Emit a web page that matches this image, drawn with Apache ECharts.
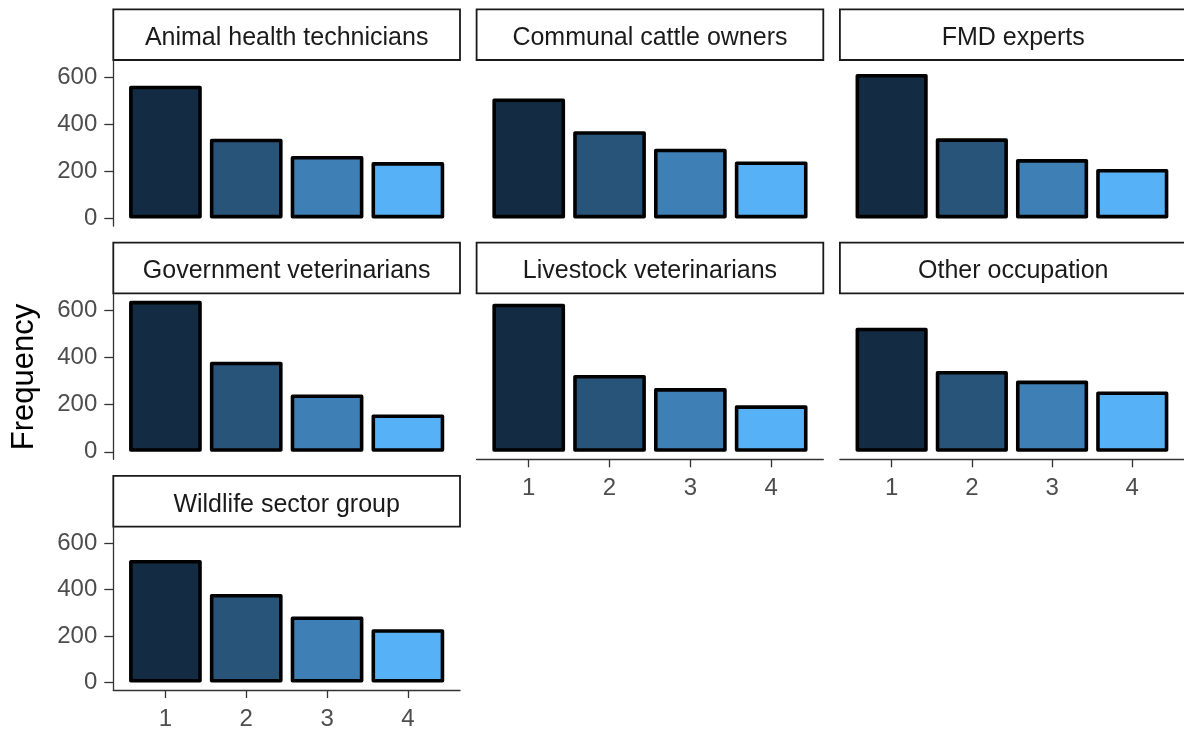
<!DOCTYPE html>
<html>
<head>
<meta charset="utf-8">
<script src="https://cdn.jsdelivr.net/npm/echarts@6/dist/echarts.min.js"></script>
<style>
  html, body { margin: 0; padding: 0; background: #ffffff; }
  #chart { width: 1184px; height: 731px; }
</style>
</head>
<body>
<div id="chart"></div>
<script>
// Facet labels, in panel order (left to right, top to bottom)
const occupations = [
  'Animal health technicians',
  'Communal cattle owners',
  'FMD experts',
  'Government veterinarians',
  'Livestock veterinarians',
  'Other occupation',
  'Wildlife sector group'
];

// Response levels on the x axis
const levels = [1, 2, 3, 4];

// Frequency of each level, one array per occupation group
const animalHealthTechnicians = [563, 338, 265, 239];
const communalCattleOwners    = [509, 370, 296, 242];
const fmdExperts              = [613, 340, 252, 210];
const governmentVeterinarians = [640, 382, 243, 158];
const livestockVeterinarians  = [628, 326, 270, 197];
const otherOccupation         = [526, 343, 302, 256];
const wildlifeSectorGroup     = [528, 382, 285, 230];

// Axis tick values
const yTickValues = [0, 200, 400, 600];
const xTickValues = [1, 2, 3, 4];

const panelValues = [
  animalHealthTechnicians, communalCattleOwners, fmdExperts,
  governmentVeterinarians, livestockVeterinarians, otherOccupation,
  wildlifeSectorGroup
];

// Fill gradient from dark navy (level 1) to light blue (level 4)
const levelFills = ['#132B43', '#28547A', '#3E7FB5', '#56B1F7'];

// Facet layout (pixels)
const colLeft = [113.3, 476.6, 839.9];
const rowTop = [9.3, 242.6, 475.9];
const panelW = 346.7;
const stripH = 50.7;
const plotH = 166;
const nCols = 3;

const FONT = 'Arial, "Liberation Sans", Helvetica, sans-serif';

// Shared scales, padded 5% like the facet defaults
const yMaxData = Math.max(...panelValues.flat());
const yMin = -0.05 * yMaxData;
const yMax = 1.05 * yMaxData;
const barSpan = 0.9;
const xLo = levels[0] - barSpan / 2;
const xHi = levels[levels.length - 1] + barSpan / 2;
const xPad = 0.05 * (xHi - xLo);

const nPanels = occupations.length;

const grids = [], xAxes = [], yAxes = [], series = [], graphics = [];

occupations.forEach((name, i) => {
  const col = i % nCols;
  const row = Math.floor(i / nCols);
  const left = colLeft[col];
  const stripTop = rowTop[row];
  const plotTop = stripTop + stripH;

  // A panel shows its x axis when nothing sits below it
  const showX = (i + nCols) >= nPanels;
  const showY = col === 0;

  grids.push({ left: left, top: plotTop, width: panelW, height: plotH, containLabel: false });

  xAxes.push({
    gridIndex: i,
    type: 'value',
    min: xLo - xPad,
    max: xHi + xPad,
    show: showX,
    axisLine: { show: true, onZero: false, lineStyle: { color: '#333333', width: 1.3 } },
    axisTick: { show: true, length: 8, customValues: xTickValues, lineStyle: { color: '#333333', width: 1.3 } },
    axisLabel: {
      show: true, customValues: xTickValues, margin: 17,
      color: '#4D4D4D', fontSize: 24, fontFamily: FONT
    },
    splitLine: { show: false }
  });

  yAxes.push({
    gridIndex: i,
    type: 'value',
    min: yMin,
    max: yMax,
    show: showY,
    axisLine: { show: true, onZero: false, lineStyle: { color: '#333333', width: 1.3 } },
    axisTick: { show: true, length: 9, customValues: yTickValues, lineStyle: { color: '#333333', width: 1.3 } },
    axisLabel: {
      show: true, customValues: yTickValues, margin: 16,
      color: '#4D4D4D', fontSize: 24, fontFamily: FONT
    },
    splitLine: { show: false }
  });

  series.push({
    type: 'bar',
    name: name,
    xAxisIndex: i,
    yAxisIndex: i,
    barWidth: (barSpan * 100) + '%',
    silent: true,
    animation: false,
    itemStyle: { borderColor: '#000000', borderWidth: 3.6, borderJoin: 'round' },
    data: panelValues[i].map((v, k) => ({
      value: [levels[k], v],
      itemStyle: { color: levelFills[k] }
    }))
  });

  // Strip header above each panel
  graphics.push({
    type: 'rect',
    silent: true,
    shape: { x: left, y: stripTop, width: panelW, height: stripH },
    style: { fill: '#FFFFFF', stroke: '#1A1A1A', lineWidth: 1.8 }
  });
  graphics.push({
    type: 'text',
    silent: true,
    style: {
      text: name,
      x: left + panelW / 2,
      y: stripTop + stripH / 2 + 3.5,
      align: 'center',
      verticalAlign: 'middle',
      fill: '#1A1A1A',
      font: '25px ' + FONT
    }
  });
});

// Shared y-axis title
graphics.push({
  type: 'text',
  silent: true,
  x: 24,
  y: 377,
  rotation: Math.PI / 2,
  style: {
    text: 'Frequency',
    x: 0,
    y: 0,
    align: 'center',
    verticalAlign: 'middle',
    fill: '#000000',
    font: '31px ' + FONT
  }
});

const chart = echarts.init(document.getElementById('chart'), null, { renderer: 'canvas' });
chart.setOption({
  animation: false,
  backgroundColor: '#FFFFFF',
  grid: grids,
  xAxis: xAxes,
  yAxis: yAxes,
  series: series,
  graphic: { elements: graphics }
});
</script>
</body>
</html>
